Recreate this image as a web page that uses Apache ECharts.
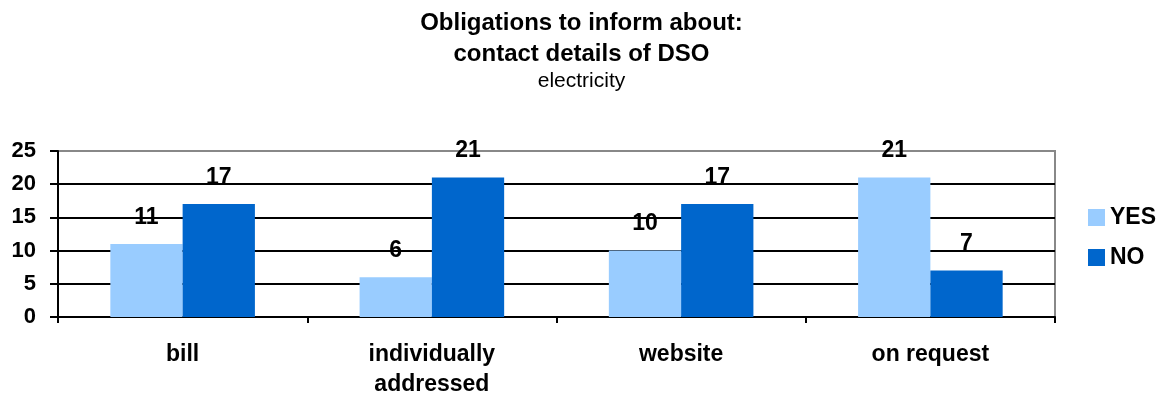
<!DOCTYPE html>
<html><head><meta charset="utf-8">
<script src="https://cdn.jsdelivr.net/npm/echarts@6/dist/echarts.min.js"></script>
<style>html,body{margin:0;padding:0;background:#fff}#c{width:1163px;height:398px}</style>
</head><body><div id="c"></div>
<script>
const categories = ['bill', 'individually\naddressed', 'website', 'on request'];
const yesValues = [11, 6, 10, 21];
const noValues = [17, 21, 17, 7];
const seriesNames = ['YES', 'NO'];

const F = '"Liberation Sans", Arial, sans-serif';
const chart = echarts.init(document.getElementById('c'));
const lbl = {show: true, position: 'top', distance: 15, fontFamily: F, fontSize: 23, fontWeight: 'bold', color: '#000'};
chart.setOption({
  animation: false,
  title: {
    text: 'Obligations to inform about:\ncontact details of DSO',
    subtext: 'electricity',
    left: 'center', top: 3, itemGap: 0,
    textStyle: {fontFamily: F, fontSize: 24, fontWeight: 'bold', color: '#000', lineHeight: 31},
    subtextStyle: {fontFamily: F, fontSize: 21, color: '#000', lineHeight: 22}
  },
  legend: {
    orient: 'vertical', left: 1083, top: 201, itemWidth: 17, itemHeight: 17, itemGap: 17,
    icon: 'rect',
    textStyle: {fontFamily: F, fontSize: 23, fontWeight: 'bold', color: '#000', lineHeight: 17},
    data: seriesNames
  },
  grid: {left: 58, top: 151, width: 997, height: 166, show: true, borderColor: '#888', borderWidth: 2, backgroundColor: 'transparent', outerBoundsMode: 'none', containLabel: false},
  xAxis: {
    type: 'category', data: categories,
    axisLine: {lineStyle: {color: '#000', width: 2}},
    axisTick: {show: true, length: 6, lineStyle: {color: '#000', width: 2}},
    axisLabel: {fontFamily: F, fontSize: 23, fontWeight: 'bold', color: '#000', margin: 23, lineHeight: 30}
  },
  yAxis: {
    type: 'value', min: 0, max: 25, interval: 5,
    axisLine: {show: true, lineStyle: {color: '#000', width: 2}},
    axisTick: {show: true, length: 8, lineStyle: {color: '#000', width: 2}},
    splitLine: {lineStyle: {color: ['#000', '#000', '#000', '#000', '#000', '#888'], width: 2}},
    axisLabel: {fontFamily: F, fontSize: 22, fontWeight: 'bold', color: '#000', margin: 22}
  },
  series: [
    {name: seriesNames[0], type: 'bar', data: yesValues, barGap: '0%', barCategoryGap: '42%', itemStyle: {color: '#99CCFF'}, label: lbl},
    {name: seriesNames[1], type: 'bar', data: noValues, itemStyle: {color: '#0066CC'}, label: lbl}
  ]
});
</script></body></html>
